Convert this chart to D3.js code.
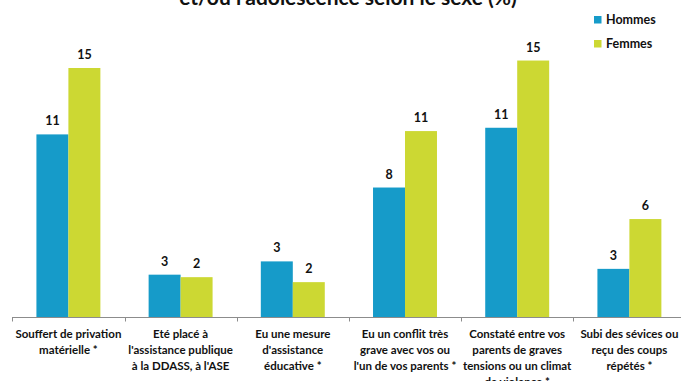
<!DOCTYPE html>
<html>
<head>
<meta charset="utf-8">
<script src="https://cdn.jsdelivr.net/npm/d3@7"></script>
<style>
  html, body { margin: 0; padding: 0; background: #fff; }
  svg { display: block; }
  text { font-family: Lato, "Open Sans", sans-serif; font-weight: bold; fill: #111; }
</style>
</head>
<body>
<svg id="chart" width="681" height="381"></svg>
<script>
// Category labels, one entry per wrapped line
const categories = [
  ["Souffert de privation", "matérielle *"],
  ["Eté placé à", "l'assistance publique", "à la DDASS, à l'ASE"],
  ["Eu une mesure", "d'assistance", "éducative *"],
  ["Eu un conflit très", "grave avec vos ou", "l'un de vos parents *"],
  ["Constaté entre vos", "parents de graves", "tensions ou un climat", "de violence *"],
  ["Subi des sévices ou", "reçu des coups", "répétés *"]
];
const hommes = [11.0, 2.55, 3.35, 7.8, 11.4, 2.9];
const femmes = [15.0, 2.4, 2.1, 11.2, 15.45, 5.9];
const seriesNames = ["Hommes", "Femmes"];
const colors = ["#169bc9", "#ccd833"];
const title = "et/ou l'adolescence selon le sexe (%)";

const svg = d3.select("#chart");
const baseY = 317;

const x0 = d3.scaleBand()
  .domain(d3.range(categories.length))
  .range([12.3, 685.5])
  .paddingInner(0.43)
  .paddingOuter(0.215);
const x1 = d3.scaleBand()
  .domain([0, 1])
  .range([0, x0.bandwidth()]);
const y = d3.scaleLinear().domain([0, 16]).range([baseY, baseY - 16 * 16.6]);

// Title (partly above the visible area)
svg.append("text")
  .attr("x", 348).attr("y", 5)
  .attr("text-anchor", "middle")
  .style("font-size", "21px")
  .text(title);

// Bars and value labels
const groups = svg.append("g").selectAll("g")
  .data(categories.map((c, i) => ({ i, vals: [hommes[i], femmes[i]] })))
  .join("g")
  .attr("transform", d => `translate(${x0(d.i)},0)`);

groups.selectAll("rect")
  .data(d => d.vals)
  .join("rect")
  .attr("x", (v, j) => x1(j))
  .attr("width", x1.bandwidth())
  .attr("y", v => y(v))
  .attr("height", v => baseY - y(v))
  .attr("fill", (v, j) => colors[j]);

groups.selectAll("text.val")
  .data(d => d.vals)
  .join("text")
  .attr("class", "val")
  .attr("x", (v, j) => x1(j) + x1.bandwidth() / 2)
  .attr("y", v => y(v) - 9)
  .attr("text-anchor", "middle")
  .style("font-size", "12.5px")
  .text(v => d3.format(".0f")(Math.round(v)));

// Category axis: baseline with ticks at band boundaries
const axisG = svg.append("g");
axisG.append("line")
  .attr("x1", 12.3).attr("x2", 685.5)
  .attr("y1", baseY + 0.5).attr("y2", baseY + 0.5)
  .attr("stroke", "#8c8c8c").attr("stroke-width", 1);
const step = x0.step();
d3.range(categories.length + 1).forEach(k => {
  const tx = Math.round(12.3 + k * step) + 0.5;
  axisG.append("line")
    .attr("x1", tx).attr("x2", tx)
    .attr("y1", baseY).attr("y2", baseY + 4.5)
    .attr("stroke", "#8c8c8c").attr("stroke-width", 1);
});

// Wrapped category labels
categories.forEach((lines, i) => {
  const cx = x0(i) + x0.bandwidth() / 2;
  const t = svg.append("text")
    .attr("text-anchor", "middle")
    .style("font-size", "11.5px");
  lines.forEach((ln, k) => {
    t.append("tspan")
      .attr("x", cx)
      .attr("y", 337.7 + k * 16)
      .text(ln);
  });
});

// Legend
const legend = svg.append("g");
seriesNames.forEach((name, j) => {
  const ly = 19.5 + j * 24;
  legend.append("rect")
    .attr("x", 594).attr("y", ly - 3.5)
    .attr("width", 7.5).attr("height", 7.5)
    .attr("fill", colors[j]);
  legend.append("text")
    .attr("x", 606).attr("y", ly + 4.5)
    .style("font-size", "12.5px")
    .text(name);
});
</script>
</body>
</html>
